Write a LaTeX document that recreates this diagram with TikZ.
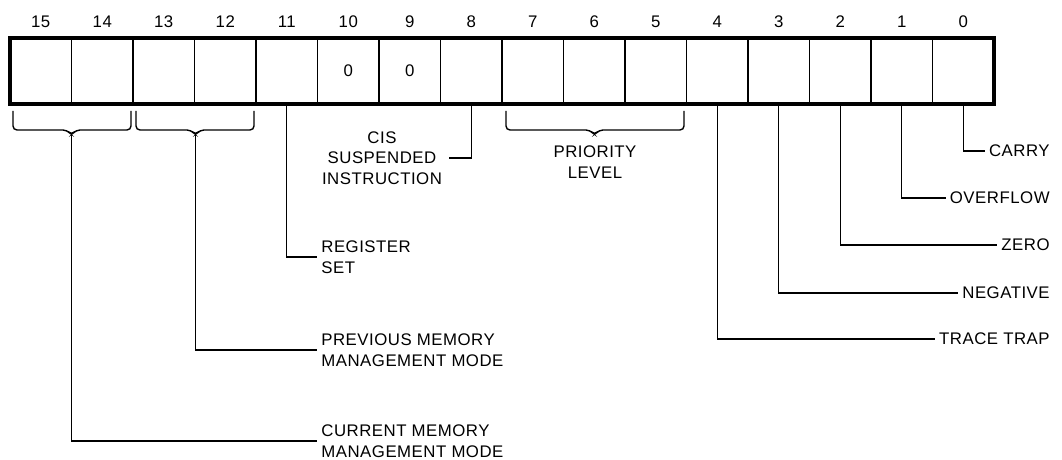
\documentclass[tikz,border=0pt]{standalone}
\usepackage{fontspec}
\setmainfont{Liberation Sans}[LetterSpace=3]
\usetikzlibrary{positioning}

\begin{document}
\begin{tikzpicture}[x=0.5pt, y=-0.5pt,
        every node/.style={font=\fontsize{8.4}{10.25}\selectfont},
        cell/.style={draw, line width=0.7pt, minimum width=30.75pt, minimum height=33pt, inner sep=0pt, outer sep=0pt},
        lead/.style={line width=0.7pt},
        tag/.style={align=left, inner sep=2pt},
        brk/.style={line width=0.7pt, rounded corners=2pt}]
        \useasboundingbox (0,0) rectangle (1062,460);

        % ==== DEFINITIONS ====
        \def\Top{111} % bracket top
        \def\Bar{130} % bracket bar
        \def\Tip{135} % bracket tip

        % ==== REGISTER CELLS ====
        \foreach \b in {0,...,15} {
            \node[cell] (b\b) at ({10+61.5*(15.5-\b)}, 71) {};
            \node[above=5pt of b\b, inner sep=0pt] (n\b) {\b};
        }
        \node (z10) at (b10) {0};
        \node (z9) at (b9) {0};
        \draw[line width=2pt] (b15.north west) rectangle (b0.south east);

        % ==== BRACKETS ====
        \draw[brk] (13,\Top) -- (13,\Bar) -- (67,\Bar) -- (71.5,\Tip) -- (76,\Bar) -- (131,\Bar) -- (131,\Top);
        \draw[brk] (136,\Top) -- (136,\Bar) -- (191,\Bar) -- (195.5,\Tip) -- (200,\Bar) -- (254,\Bar) -- (254,\Top);
        \draw[brk] (506,\Top) -- (506,\Bar) -- (590,\Bar) -- (594.5,\Tip) -- (599,\Bar) -- (684,\Bar) -- (684,\Top);
        \coordinate (cmm) at (71.5,\Tip);
        \coordinate (pmm) at (195.5,\Tip);

        % ==== LABELS ====
        \node[align=center] (cis) at (382,158) {CIS\\SUSPENDED\\INSTRUCTION};
        \node[align=center] (prio) at (595,162) {PRIORITY\\LEVEL};
        \node[tag, anchor=west] (regset) at (317,257) {REGISTER\\SET};
        \node[tag, anchor=west] (prevmm) at (317,350) {PREVIOUS MEMORY\\MANAGEMENT MODE};
        \node[tag, anchor=west] (curmm) at (317,441) {CURRENT MEMORY\\MANAGEMENT MODE};
        \node[tag, anchor=east] (carry) at (1054,151) {CARRY};
        \node[tag, anchor=east] (ovf) at (1054,198) {OVERFLOW};
        \node[tag, anchor=east] (zero) at (1054,245) {ZERO};
        \node[tag, anchor=east] (neg) at (1054,293) {NEGATIVE};
        \node[tag, anchor=east] (trace) at (1054,339) {TRACE TRAP};

        % ==== LEADERS ====
        \draw[lead] (b8.south) |- (cis.east);
        \draw[lead] (b11.south) |- (regset.west);
        \draw[lead] (pmm) |- (prevmm.west);
        \draw[lead] (cmm) |- (curmm.west);
        \draw[lead] (b0.south) |- (carry.west);
        \draw[lead] (b1.south) |- (ovf.west);
        \draw[lead] (b2.south) |- (zero.west);
        \draw[lead] (b3.south) |- (neg.west);
        \draw[lead] (b4.south) |- (trace.west);

    \end{tikzpicture}
\end{document}
